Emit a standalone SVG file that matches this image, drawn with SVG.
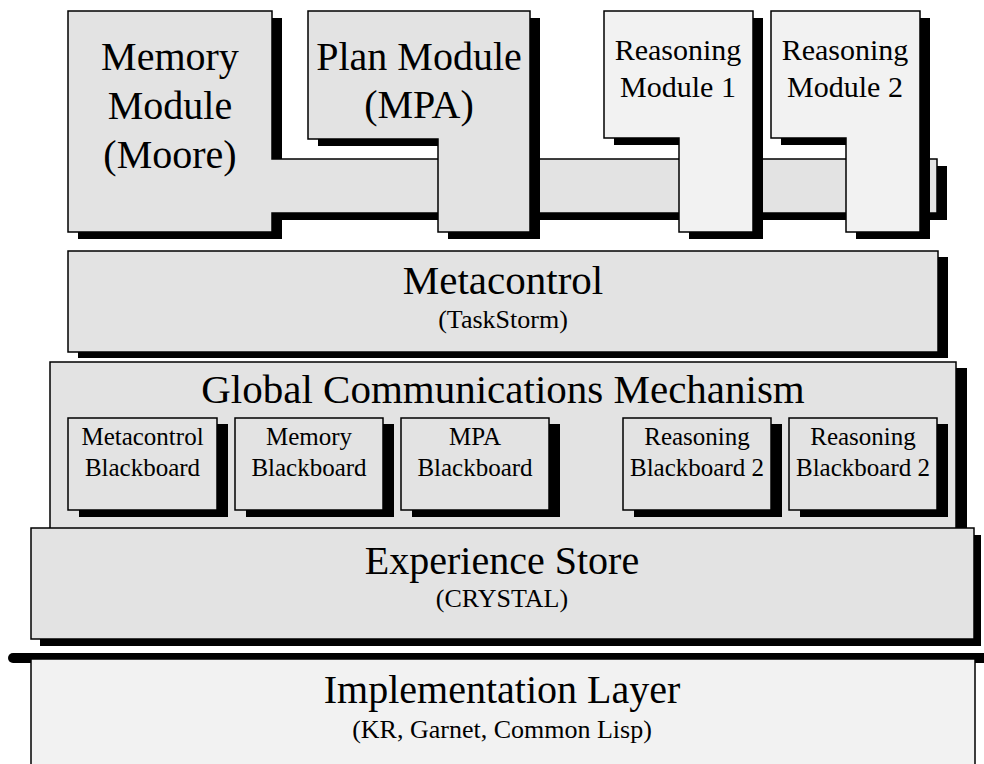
<svg xmlns="http://www.w3.org/2000/svg" width="984" height="764" viewBox="0 0 984 764">
<style>
.g{fill:#e3e3e3;stroke:#000;stroke-width:1.5}
.l{fill:#f2f2f2;stroke:#000;stroke-width:1.5}
.s{fill:#000}
text{font-family:"Liberation Serif","Times New Roman",serif;fill:#000;text-anchor:middle}
.t40{font-size:40px}
.t41{font-size:41px}
.t30{font-size:30px}
.t26{font-size:26px}
.t25{font-size:25px}
</style>
<rect width="984" height="764" fill="#fff"/>

<g id="memory-module">
  <polygon class="s" points="78,18 282,18 282,166 947,166 947,220 282,220 282,239 78,239"/>
  <polygon class="g" points="68,11 272,11 272,159 937,159 937,213 272,213 272,232 68,232"/>
  <text class="t40" x="170" y="70">Memory</text>
  <text class="t40" x="170" y="119">Module</text>
  <text class="t40" x="170" y="168">(Moore)</text>
</g>

<g id="plan-module">
  <polygon class="s" points="318,18 540,18 540,239 448,239 448,146 318,146"/>
  <polygon class="g" points="308,11 530,11 530,232 438,232 438,139 308,139"/>
  <text class="t40" x="419" y="70">Plan Module</text>
  <text class="t40" x="419" y="118">(MPA)</text>
</g>

<g id="reasoning-module-1">
  <polygon class="s" points="614,18 763,18 763,239 689,239 689,145 614,145"/>
  <polygon class="l" points="604,11 753,11 753,232 679,232 679,138 604,138"/>
  <text class="t30" x="678" y="60">Reasoning</text>
  <text class="t30" x="678" y="97">Module 1</text>
</g>

<g id="reasoning-module-2">
  <polygon class="s" points="781,18 930,18 930,239 856,239 856,145 781,145"/>
  <polygon class="l" points="771,11 920,11 920,232 846,232 846,138 771,138"/>
  <text class="t30" x="845" y="60">Reasoning</text>
  <text class="t30" x="845" y="97">Module 2</text>
</g>

<g id="metacontrol">
  <rect class="s" x="78" y="257" width="870" height="101"/>
  <rect class="g" x="68" y="251" width="870" height="101"/>
  <text class="t41" x="503" y="294">Metacontrol</text>
  <text class="t26" x="503" y="328">(TaskStorm)</text>
</g>

<g id="global-communications">
  <rect class="s" x="61" y="368" width="906" height="166"/>
  <rect class="g" x="50" y="362" width="906" height="168"/>
  <text class="t41" x="503" y="403">Global Communications Mechanism</text>
</g>

<g id="metacontrol-blackboard">
  <rect class="s" x="79" y="424" width="149" height="93"/>
  <rect class="g" x="68" y="418" width="149" height="92"/>
  <text class="t25" x="142.5" y="445">Metacontrol</text>
  <text class="t25" x="142.5" y="476">Blackboard</text>
</g>
<g id="memory-blackboard">
  <rect class="s" x="246" y="424" width="148" height="93"/>
  <rect class="g" x="235" y="418" width="148" height="92"/>
  <text class="t25" x="309" y="445">Memory</text>
  <text class="t25" x="309" y="476">Blackboard</text>
</g>
<g id="mpa-blackboard">
  <rect class="s" x="412" y="424" width="148" height="93"/>
  <rect class="g" x="401" y="418" width="148" height="92"/>
  <text class="t25" x="475" y="445">MPA</text>
  <text class="t25" x="475" y="476">Blackboard</text>
</g>
<g id="reasoning-blackboard-a">
  <rect class="s" x="634" y="424" width="148" height="93"/>
  <rect class="g" x="623" y="418" width="148" height="92"/>
  <text class="t25" x="697" y="445">Reasoning</text>
  <text class="t25" x="697" y="476">Blackboard 2</text>
</g>
<g id="reasoning-blackboard-b">
  <rect class="s" x="800" y="424" width="148" height="93"/>
  <rect class="g" x="789" y="418" width="148" height="92"/>
  <text class="t25" x="863" y="445">Reasoning</text>
  <text class="t25" x="863" y="476">Blackboard 2</text>
</g>

<g id="experience-store">
  <rect class="s" x="40" y="535" width="941" height="111"/>
  <rect class="g" x="31" y="528" width="943" height="111"/>
  <text class="t40" x="502" y="574">Experience Store</text>
  <text class="t26" x="502" y="607">(CRYSTAL)</text>
</g>

<g id="connectors">
  <line x1="13" y1="658" x2="990" y2="658" stroke="#000" stroke-width="10" stroke-linecap="round"/>
</g>

<g id="implementation-layer">
  <rect class="l" x="31" y="659" width="944" height="140"/>
  <text class="t40" x="502" y="703">Implementation Layer</text>
  <text class="t26" x="502" y="738">(KR, Garnet, Common Lisp)</text>
</g>
</svg>
